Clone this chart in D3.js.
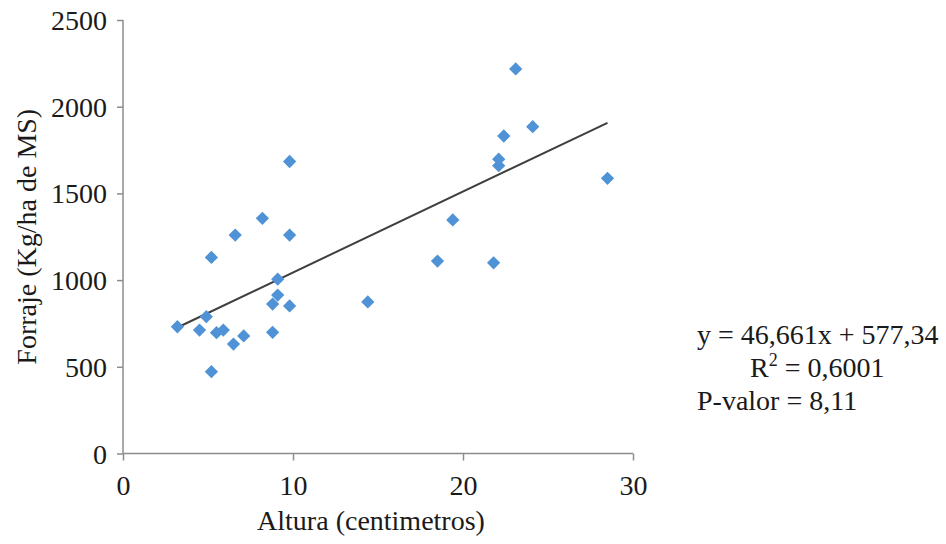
<!DOCTYPE html>
<html>
<head>
<meta charset="utf-8">
<script src="https://cdn.jsdelivr.net/npm/d3@7"></script>
<style>
  body { margin: 0; background: #fff; }
  svg text { font-family: "Liberation Serif", "DejaVu Serif", serif; fill: #1a1a1a; }
</style>
</head>
<body>
<svg id="svg1" width="946" height="544"></svg>
<script>
// altura (cm) and forraje (kg/ha MS)
var altura = [3.2, 4.5, 4.9, 5.2, 5.2, 5.5, 5.9, 6.5, 6.6, 7.1, 8.2, 8.8, 8.8, 9.1, 9.1, 9.8, 9.8, 9.8,
              14.4, 18.5, 19.4, 21.8, 22.1, 22.1, 22.4, 23.1, 24.1, 28.5];
var forraje = [731, 712, 789, 1131, 472, 697, 712, 631, 1260, 678, 1356, 862, 699, 914, 1005, 851, 1260, 1684,
               874, 1110, 1347, 1100, 1697, 1660, 1831, 2218, 1885, 1587];

var xTicks = [0, 10, 20, 30];
var yTicks = [0, 500, 1000, 1500, 2000, 2500];

var slope = 46.661, intercept = 577.34;
var eqLines = ["y = 46,661x + 577,34", "R2 = 0,6001", "P-valor = 8,11"];

var svg = d3.select("#svg1"),
    margin = {left: 123, top: 20},
    width = 510,
    height = 433.5;

var g = svg.append("g")
    .attr("transform", "translate(" + margin.left + "," + margin.top + ")");

var xScale = d3.scaleLinear().domain([0, 30]).range([0, width]);
var yScale = d3.scaleLinear().domain([0, 2500]).range([height, 0]);

var axisColor = "#8c8c8c";

// y axis
var yAxis = g.append("g")
    .call(d3.axisLeft(yScale).tickValues(yTicks).tickSize(6).tickPadding(10).tickFormat(d3.format("d")));
yAxis.select(".domain").attr("stroke", axisColor).attr("stroke-width", 1.5).attr("d", "M0," + height + "V0");
yAxis.selectAll(".tick line").attr("stroke", axisColor).attr("stroke-width", 1.5);
yAxis.selectAll(".tick text").attr("font-size", "28px").attr("dy", "0.34em");

// x axis
var xAxis = g.append("g")
    .attr("transform", "translate(0," + height + ")")
    .call(d3.axisBottom(xScale).tickValues(xTicks).tickSize(7).tickPadding(15));
xAxis.select(".domain").attr("stroke", axisColor).attr("stroke-width", 1.5).attr("d", "M0,0H" + width);
xAxis.selectAll(".tick line").attr("stroke", axisColor).attr("stroke-width", 1.5);
xAxis.selectAll(".tick text").attr("font-size", "28px");

// trend line over the data range
var xr = d3.extent(altura);
var line = d3.line()
    .x(function(d) { return xScale(d); })
    .y(function(d) { return yScale(slope * d + intercept); });
g.append("path")
    .datum(xr)
    .attr("d", line)
    .attr("fill", "none")
    .attr("stroke", "#3f3f3f")
    .attr("stroke-width", 2);

// points (diamonds)
var diamond = d3.symbol().type(d3.symbolSquare).size(88);
g.selectAll(".dot")
    .data(altura)
  .enter().append("path")
    .attr("class", "dot")
    .attr("d", diamond)
    .attr("fill", "#4f93d6")
    .attr("transform", function(d, i) {
        return "translate(" + xScale(d) + "," + yScale(forraje[i]) + ") rotate(45)";
    });

// axis titles
svg.append("text")
    .attr("x", margin.left + width / 2 - 7)
    .attr("y", 530)
    .attr("text-anchor", "middle")
    .attr("font-size", "28px")
    .text("Altura (centimetros)");

svg.append("text")
    .attr("transform", "translate(36," + (margin.top + height / 2) + ") rotate(-90)")
    .attr("text-anchor", "middle")
    .attr("font-size", "28px")
    .text("Forraje (Kg/ha de MS)");

// equation label
var eq = svg.append("g").attr("font-size", "28px");
eq.append("text").attr("x", 697).attr("y", 344).text(eqLines[0]);
var r2 = eq.append("text").attr("x", 750).attr("y", 377);
r2.append("tspan").text("R");
r2.append("tspan").attr("font-size", "18px").attr("dy", "-11").text("2");
r2.append("tspan").attr("dy", "11").text(" = 0,6001");
eq.append("text").attr("x", 697).attr("y", 410).text(eqLines[2]);
</script>
</body>
</html>
